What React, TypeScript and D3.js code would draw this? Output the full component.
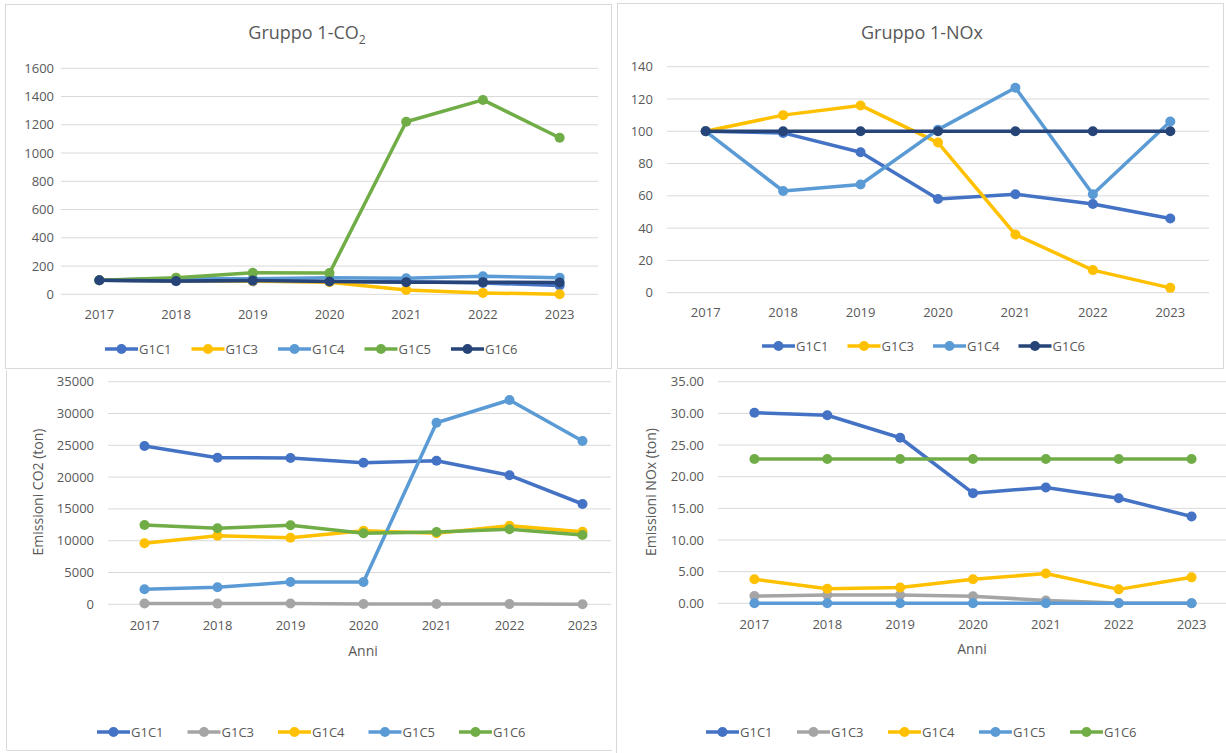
import React from "react";
import * as d3 from "d3";

const years = ["2017", "2018", "2019", "2020", "2021", "2022", "2023"];

// Top-left: Gruppo 1-CO2 (index)
const co2IdxG1C1 = [100, 92, 92, 90, 88, 80, 62];
const co2IdxG1C3 = [100, 98, 95, 85, 30, 10, 0];
const co2IdxG1C4 = [100, 112, 110, 118, 114, 128, 118];
const co2IdxG1C5 = [100, 118, 152, 150, 1222, 1376, 1108];
const co2IdxG1C6 = [100, 94, 97, 90, 86, 86, 84];
const co2IdxTicks = [0, 200, 400, 600, 800, 1000, 1200, 1400, 1600];

// Top-right: Gruppo 1-NOx (index)
const noxIdxG1C1 = [100, 99, 87, 58, 61, 55, 46];
const noxIdxG1C3 = [100, 110, 116, 93, 36, 14, 3];
const noxIdxG1C4 = [100, 63, 67, 101, 127, 61, 106];
const noxIdxG1C6 = [100, 100, 100, 100, 100, 100, 100];
const noxIdxTicks = [0, 20, 40, 60, 80, 100, 120, 140];

// Bottom-left: Emissioni CO2 (ton)
const co2G1C1 = [24890, 23050, 23000, 22260, 22580, 20280, 15770];
const co2G1C3 = [120, 110, 115, 60, 40, 30, 10];
const co2G1C4 = [9590, 10790, 10470, 11570, 11160, 12360, 11420];
const co2G1C5 = [2360, 2670, 3500, 3500, 28550, 32120, 25680];
const co2G1C6 = [12470, 11950, 12420, 11160, 11370, 11790, 10900];
const co2Ticks = [0, 5000, 10000, 15000, 20000, 25000, 30000, 35000];

// Bottom-right: Emissioni NOx (ton)
const noxG1C1 = [30.1, 29.7, 26.15, 17.4, 18.3, 16.6, 13.7];
const noxG1C3 = [1.15, 1.3, 1.3, 1.1, 0.45, 0.05, 0.0];
const noxG1C4 = [3.8, 2.3, 2.5, 3.8, 4.7, 2.2, 4.1];
const noxG1C5 = [0, 0, 0, 0, 0, 0, 0];
const noxG1C6 = [22.8, 22.8, 22.8, 22.8, 22.8, 22.8, 22.8];
const noxTicks = [0, 5, 10, 15, 20, 25, 30, 35];

const BLUE = "#4472C4";
const YELLOW = "#FFC000";
const LBLUE = "#5B9BD5";
const GREEN = "#70AD47";
const NAVY = "#264478";
const GREY = "#A5A5A5";
const TXT = "#595959";
const FONT = "'Open Sans', 'Liberation Sans', sans-serif";

type Series = { name: string; color: string; values: number[] };

type PanelProps = {
  series: Series[];
  ticks: number[];
  tickFmt: (v: number) => string;
  xRange: [number, number];
  yRange: [number, number]; // [bottom, top]
  gridX: [number, number];
  tickLabelX: number;
  xLabelY: number;
  legendX: number;
  legendY: number;
  legendStep: number;
  xTitle?: { text: string; x: number; y: number };
  yTitle?: { text: string; x: number; y: number };
};

function Panel(p: PanelProps) {
  const x = d3.scalePoint<string>().domain(years).range(p.xRange).padding(0.5);
  const y = d3
    .scaleLinear()
    .domain([p.ticks[0], p.ticks[p.ticks.length - 1]])
    .range(p.yRange);
  const line = d3
    .line<number>()
    .x((_, i) => x(years[i]) as number)
    .y((d) => y(d));
  return (
    <g>
      {p.ticks.map((t) => (
        <g key={t}>
          <line x1={p.gridX[0]} x2={p.gridX[1]} y1={y(t)} y2={y(t)} stroke="#D9D9D9" strokeWidth={1} />
          <text x={p.tickLabelX} y={y(t)} dy="0.35em" textAnchor="end" fontSize={13} fill={TXT} fontFamily={FONT}>
            {p.tickFmt(t)}
          </text>
        </g>
      ))}
      {years.map((yr) => (
        <text key={yr} x={x(yr)} y={p.xLabelY} dy="0.35em" textAnchor="middle" fontSize={13} fill={TXT} fontFamily={FONT}>
          {yr}
        </text>
      ))}
      {p.series.map((s) => (
        <g key={s.name}>
          <path d={line(s.values) || ""} fill="none" stroke={s.color} strokeWidth={3.5} strokeLinejoin="round" />
          {s.values.map((v, i) => (
            <circle key={i} cx={x(years[i])} cy={y(v)} r={5} fill={s.color} />
          ))}
        </g>
      ))}
      {p.series.map((s, i) => {
        const lx = p.legendX + i * p.legendStep;
        return (
          <g key={"lg" + s.name}>
            <line x1={lx} x2={lx + 33} y1={p.legendY} y2={p.legendY} stroke={s.color} strokeWidth={3.5} />
            <circle cx={lx + 16.5} cy={p.legendY} r={5} fill={s.color} />
            <text x={lx + 34} y={p.legendY} dy="0.35em" fontSize={13} fill={TXT} fontFamily={FONT}>
              {s.name}
            </text>
          </g>
        );
      })}
      {p.xTitle && (
        <text x={p.xTitle.x} y={p.xTitle.y} dy="0.35em" textAnchor="middle" fontSize={14} fill={TXT} fontFamily={FONT}>
          {p.xTitle.text}
        </text>
      )}
      {p.yTitle && (
        <text
          transform={`translate(${p.yTitle.x},${p.yTitle.y}) rotate(-90)`}
          dy="0.35em"
          textAnchor="middle"
          fontSize={14}
          fill={TXT}
          fontFamily={FONT}
        >
          {p.yTitle.text}
        </text>
      )}
    </g>
  );
}

export default function App() {
  const fmt0 = (v: number) => d3.format("d")(v);
  const fmt2 = (v: number) => d3.format(".2f")(v);
  return (
    <svg
      width={1226}
      height={753}
      style={{ position: "absolute", left: 0, top: 0, background: "#fff" }}
    >
      <rect x={0} y={0} width={1226} height={753} fill="#fff" />
      {/* panel borders */}
      <rect x={5.5} y={4.5} width={606} height={364} fill="none" stroke="#D9D9D9" />
      <rect x={617.5} y={3.5} width={606} height={365} fill="none" stroke="#D9D9D9" />
      <line x1={6.5} x2={6.5} y1={370} y2={750} stroke="#D9D9D9" />
      <line x1={6.5} x2={612} y1={750.5} y2={750.5} stroke="#D9D9D9" />
      <line x1={616.5} x2={616.5} y1={370} y2={753} stroke="#D9D9D9" />

      {/* titles */}
      <text x={307} y={33} dy="0.35em" textAnchor="middle" fontSize={18} fill={TXT} fontFamily={FONT}>
        Gruppo 1-CO<tspan fontSize={12} dy={5}>2</tspan>
      </text>
      <text x={922} y={33} dy="0.35em" textAnchor="middle" fontSize={18} fill={TXT} fontFamily={FONT}>
        Gruppo 1-NOx
      </text>

      <Panel
        series={[
          { name: "G1C1", color: BLUE, values: co2IdxG1C1 },
          { name: "G1C3", color: YELLOW, values: co2IdxG1C3 },
          { name: "G1C4", color: LBLUE, values: co2IdxG1C4 },
          { name: "G1C5", color: GREEN, values: co2IdxG1C5 },
          { name: "G1C6", color: NAVY, values: co2IdxG1C6 },
        ]}
        ticks={co2IdxTicks}
        tickFmt={fmt0}
        xRange={[61, 598]}
        yRange={[294.3, 68.3]}
        gridX={[61, 598]}
        tickLabelX={54}
        xLabelY={314}
        legendX={105}
        legendY={349}
        legendStep={86.5}
      />
      <Panel
        series={[
          { name: "G1C1", color: BLUE, values: noxIdxG1C1 },
          { name: "G1C3", color: YELLOW, values: noxIdxG1C3 },
          { name: "G1C4", color: LBLUE, values: noxIdxG1C4 },
          { name: "G1C6", color: NAVY, values: noxIdxG1C6 },
        ]}
        ticks={noxIdxTicks}
        tickFmt={fmt0}
        xRange={[667, 1209]}
        yRange={[292.7, 66.7]}
        gridX={[667, 1209]}
        tickLabelX={653}
        xLabelY={312}
        legendX={762}
        legendY={346}
        legendStep={85.5}
      />
      <Panel
        series={[
          { name: "G1C1", color: BLUE, values: co2G1C1 },
          { name: "G1C3", color: GREY, values: co2G1C3 },
          { name: "G1C4", color: YELLOW, values: co2G1C4 },
          { name: "G1C5", color: LBLUE, values: co2G1C5 },
          { name: "G1C6", color: GREEN, values: co2G1C6 },
        ]}
        ticks={co2Ticks}
        tickFmt={fmt0}
        xRange={[108, 619]}
        yRange={[604.3, 381.7]}
        gridX={[108, 611]}
        tickLabelX={94}
        xLabelY={625}
        legendX={97}
        legendY={732}
        legendStep={90.5}
        xTitle={{ text: "Anni", x: 363, y: 651 }}
        yTitle={{ text: "Emissioni CO2 (ton)", x: 38, y: 492 }}
      />
      <Panel
        series={[
          { name: "G1C1", color: BLUE, values: noxG1C1 },
          { name: "G1C3", color: GREY, values: noxG1C3 },
          { name: "G1C4", color: YELLOW, values: noxG1C4 },
          { name: "G1C5", color: LBLUE, values: noxG1C5 },
          { name: "G1C6", color: GREEN, values: noxG1C6 },
        ]}
        ticks={noxTicks}
        tickFmt={fmt2}
        xRange={[718, 1228]}
        yRange={[603.3, 381.7]}
        gridX={[718, 1226]}
        tickLabelX={704}
        xLabelY={624}
        legendX={706}
        legendY={732}
        legendStep={91}
        xTitle={{ text: "Anni", x: 972, y: 649 }}
        yTitle={{ text: "Emissioni NOx (ton)", x: 651, y: 492 }}
      />
    </svg>
  );
}
